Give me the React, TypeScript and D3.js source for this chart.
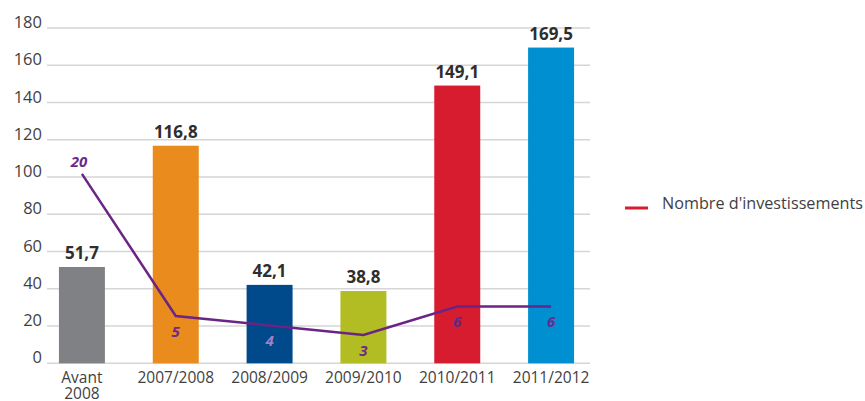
import React from "react";
import * as d3 from "d3";

const categories = ["Avant 2008", "2007/2008", "2008/2009", "2009/2010", "2010/2011", "2011/2012"];
const amounts = [51.7, 116.8, 42.1, 38.8, 149.1, 169.5];
const amountLabels = ["51,7", "116,8", "42,1", "38,8", "149,1", "169,5"];
const investments = [20, 5, 4, 3, 6, 6];
const barColors = ["#808184", "#e98b1d", "#00498a", "#b1bd22", "#d71c30", "#008fd0"];
const yTicks = [0, 20, 40, 60, 80, 100, 120, 140, 160, 180];
const legendLabel = "Nombre d'investissements";

const W = 865;
const H = 401;

export default function App() {
  const x = d3
    .scaleBand<string>()
    .domain(categories)
    .range([35, 598])
    .paddingInner(0.51)
    .paddingOuter(0.255);
  const y = d3.scaleLinear().domain([0, 180]).range([363.3, 28]);
  const y2 = d3.scaleLinear().domain([0, 35.4]).range([363.3, 28]);
  const bw = x.bandwidth();
  const cx = (c: string) => (x(c) as number) + bw / 2;

  const line = d3
    .line<number>()
    .x((_, i) => cx(categories[i]))
    .y((d) => y2(d));

  const labelColors = ["#6b2a87", "#6b2a87", "#9d82c4", "#6b2a87", "#5b2a8c", "#6b2a8c"];
  const font = "'Open Sans', 'Noto Sans', sans-serif";

  return (
    <svg width={W} height={H} style={{ position: "absolute", left: 0, top: 0 }}>
      <rect width={W} height={H} fill="#fff" />
      {yTicks.map((t) => (
        <g key={t}>
          <line x1={47} x2={590} y1={y(t)} y2={y(t)} stroke="#d6d6d6" strokeWidth={1.5} />
          <text
            x={42}
            y={y(t)}
            textAnchor="end"
            fontFamily={font}
            fontSize={16.5}
            fill="#3f3f3f"
          >
            {t}
          </text>
        </g>
      ))}
      {categories.map((c, i) => (
        <g key={c}>
          <rect x={x(c)} y={y(amounts[i])} width={bw} height={y(0) - y(amounts[i])} fill={barColors[i]} />
          <text
            x={cx(c)}
            y={y(amounts[i]) - 8}
            textAnchor="middle"
            fontFamily={font}
            fontWeight={700}
            fontSize={17}
            fill="#2e2e2e"
          >
            {amountLabels[i]}
          </text>
        </g>
      ))}
      {categories.map((c, i) => {
        const parts = c === "Avant 2008" ? ["Avant", "2008"] : [c];
        return (
          <text key={c} textAnchor="middle" fontFamily={font} fontSize={15.5} fill="#3f3f3f">
            {parts.map((p, j) => (
              <tspan key={j} x={cx(c)} y={383 + j * 16}>
                {p}
              </tspan>
            ))}
          </text>
        );
      })}
      <path d={line(investments) || ""} fill="none" stroke="#6b2485" strokeWidth={2.5} />
      {investments.map((v, i) => {
        const above = i === 0;
        return (
          <text
            key={i}
            x={cx(categories[i]) - (above ? 3 : 0)}
            y={above ? y2(v) - 7 : y2(v) + 21}
            textAnchor="middle"
            fontFamily={font}
            fontStyle="italic"
            fontWeight={700}
            fontSize={15}
            fill={labelColors[i]}
          >
            {v}
          </text>
        );
      })}
      <line x1={625} x2={648} y1={208} y2={208} stroke="#d71c30" strokeWidth={3} />
      <text x={662} y={209} fontFamily={font} fontSize={16.2} fill="#3f3f3f">
        {legendLabel}
      </text>
    </svg>
  );
}
